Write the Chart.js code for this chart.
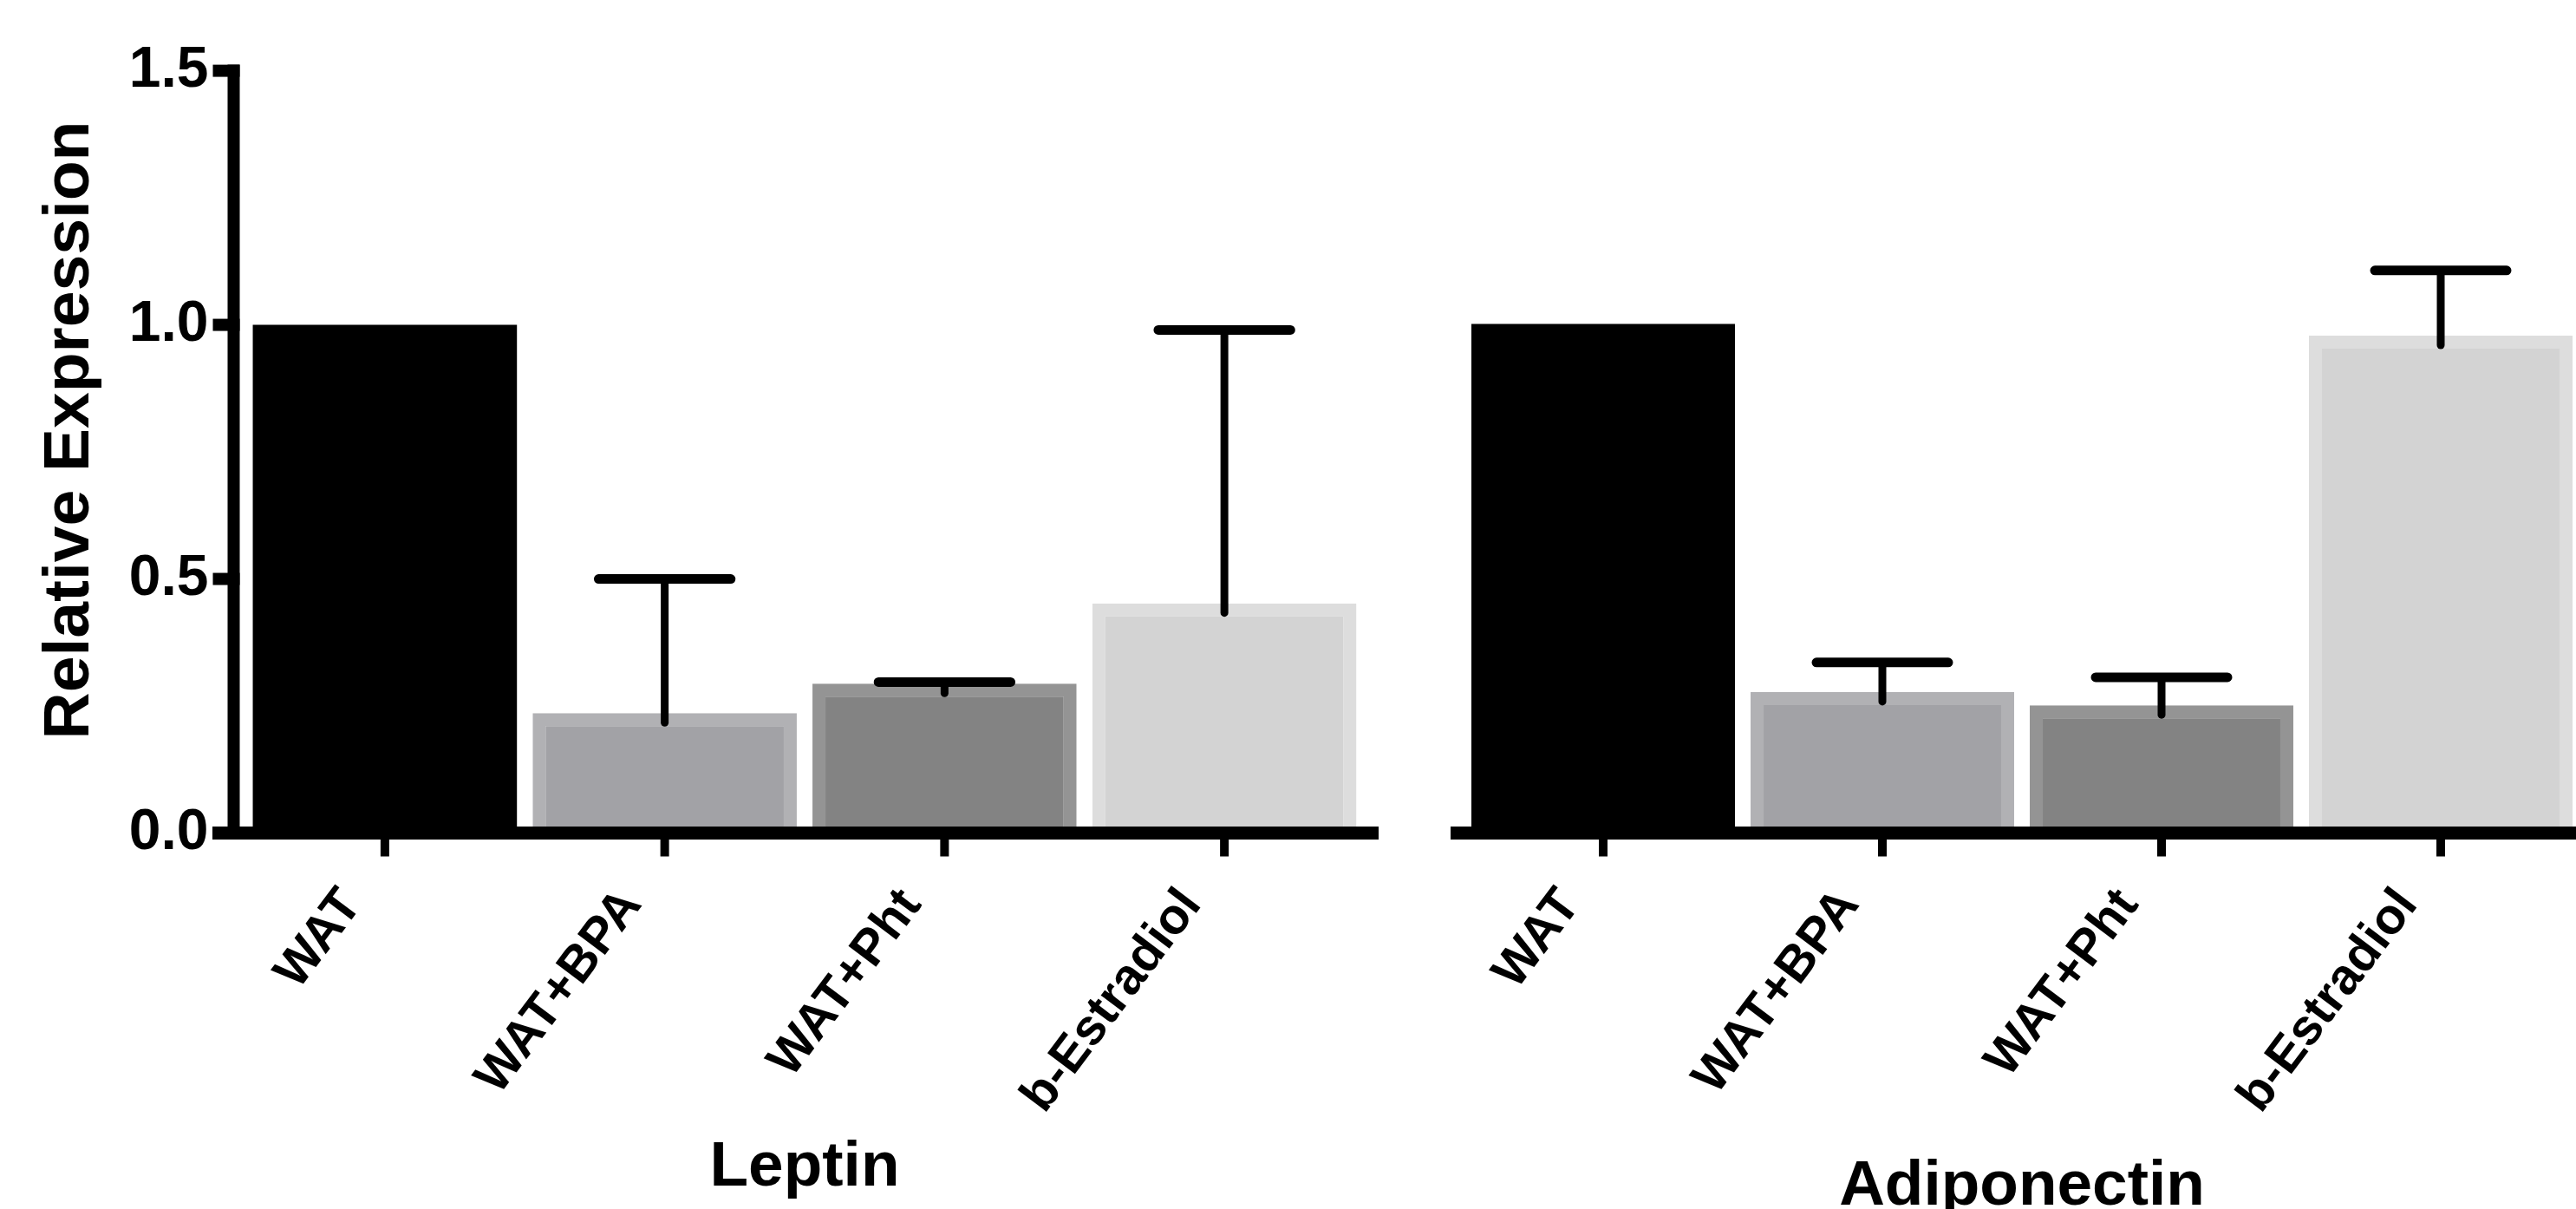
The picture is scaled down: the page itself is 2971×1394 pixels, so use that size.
<!DOCTYPE html>
<html>
<head>
<meta charset="utf-8">
<script src="https://cdn.jsdelivr.net/npm/chart.js@4.4.1/dist/chart.umd.min.js"></script>
<style>
  html, body { margin: 0; padding: 0; background: #fff; overflow: hidden; }
  #wrap { position: relative; width: 2971px; height: 1394px; overflow: hidden; background: #fff; }
  #leptinChart { position: absolute; left: 0; top: 0; }
  #adipoChart { position: absolute; left: 1620px; top: 0; }
</style>
</head>
<body>
<div id="wrap">
  <canvas id="leptinChart" width="1620" height="1394"></canvas>
  <canvas id="adipoChart" width="1400" height="1420"></canvas>
</div>
<script>
// groups and values
const groups = ['WAT', 'WAT+BPA', 'WAT+Pht', 'b-Estradiol'];
const leptinMean = [1.0, 0.236, 0.294, 0.452];
const leptinErr = [0, 0.264, 0.003, 0.538];
const adipoMean = [1.0, 0.277, 0.251, 0.977];
const adipoErr = [0, 0.058, 0.055, 0.128];
const yTicks = [0, 0.5, 1.0, 1.5];
const yTitle = 'Relative Expression';

const fillColors = ['#000000', '#a2a2a6', '#838383', '#d3d3d3'];
const edgeColors = ['#000000', '#b1b1b4', '#949494', '#dddddd'];
const edgeWidths = [0, 15, 15, 15];
const FONT = "'Liberation Sans', Arial, Helvetica, sans-serif";

// Prism-style axes + SEM error bars drawn from the chart's own scales
const prismAxes = {
  id: 'prismAxes',
  afterDatasetsDraw(chart, args, opts) {
    const ctx = chart.ctx;
    const area = chart.chartArea;
    const xs = chart.scales.x, ys = chart.scales.y;
    const meta = chart.getDatasetMeta(0);
    const means = chart.data.datasets[0].data;
    ctx.save();
    ctx.strokeStyle = '#000';

    // error bars (upper only)
    ctx.lineCap = 'round';
    meta.data.forEach((bar, i) => {
      const e = opts.errors[i];
      if (!e) return;
      const top = ys.getPixelForValue(means[i] + e);
      const half = bar.width * 0.25;
      ctx.lineWidth = 9;
      ctx.beginPath();
      ctx.moveTo(bar.x, bar.y + 11);
      ctx.lineTo(bar.x, top);
      ctx.stroke();
      ctx.lineWidth = 11;
      ctx.beginPath();
      ctx.moveTo(bar.x - half, top);
      ctx.lineTo(bar.x + half, top);
      ctx.stroke();
    });

    // x axis
    ctx.lineCap = 'butt';
    const y0 = ys.getPixelForValue(0);
    ctx.lineWidth = 15;
    ctx.beginPath();
    ctx.moveTo(area.left - opts.leftExt, y0);
    ctx.lineTo(area.right + opts.rightExt, y0);
    ctx.stroke();
    ctx.lineWidth = 10;
    groups.forEach((g, i) => {
      const px = xs.getPixelForValue(i);
      ctx.beginPath();
      ctx.moveTo(px, y0 + 7);
      ctx.lineTo(px, y0 + 27);
      ctx.stroke();
    });

    // y axis, ticks and its title (title sits a little above centre, as in the figure)
    if (opts.yAxis) {
      const ax = area.left - 13;
      ctx.lineWidth = 14;
      ctx.beginPath();
      ctx.moveTo(ax, ys.getPixelForValue(1.5) - 7);
      ctx.lineTo(ax, y0 + 7);
      ctx.stroke();
      yTicks.forEach(v => {
        const py = ys.getPixelForValue(v);
        ctx.beginPath();
        ctx.moveTo(ax - 24, py);
        ctx.lineTo(ax + 7, py);
        ctx.stroke();
      });
      ctx.translate(area.left - 201, (area.top + area.bottom) / 2 - 25);
      ctx.rotate(-Math.PI / 2);
      ctx.fillStyle = '#000';
      ctx.font = 'bold 75px ' + FONT;
      ctx.textAlign = 'center';
      ctx.textBaseline = 'middle';
      ctx.fillText(yTitle, 0, 0);
    }
    ctx.restore();
  }
};

function makeChart(id, means, errs, title, cfg) {
  return new Chart(document.getElementById(id), {
    type: 'bar',
    data: {
      labels: groups,
      datasets: [{
        data: means,
        backgroundColor: fillColors,
        borderColor: edgeColors,
        borderWidth: edgeWidths,
        borderSkipped: 'bottom',
        barPercentage: 0.944,
        categoryPercentage: 1
      }]
    },
    options: {
      responsive: false,
      animation: false,
      layout: { padding: cfg.padding },
      plugins: {
        legend: { display: false },
        tooltip: { enabled: false },
        prismAxes: { errors: errs, yAxis: cfg.showY, leftExt: cfg.leftExt, rightExt: cfg.rightExt }
      },
      scales: {
        x: {
          grid: { display: false, drawTicks: false },
          border: { display: false },
          ticks: {
            color: '#000',
            font: { family: FONT, size: 58, weight: 'bold' },
            minRotation: 53,
            maxRotation: 53,
            autoSkip: false,
            labelOffset: -38,
            padding: 52
          },
          title: {
            display: true,
            text: title,
            color: '#000',
            font: { family: FONT, size: 73, weight: 'bold' },
            padding: { top: 0, bottom: cfg.titlePad }
          },
          afterFit: s => { s.height = cfg.xHeight; }
        },
        y: {
          display: cfg.showY,
          min: 0,
          max: 1.5,
          grid: { display: false, drawTicks: false },
          border: { display: false },
          afterBuildTicks: s => { s.ticks = yTicks.map(v => ({ value: v })); },
          ticks: {
            color: '#000',
            font: { family: FONT, size: 66, weight: 'bold' },
            padding: 42,
            callback: v => Number(v).toFixed(1)
          },
          afterFit: s => { s.width = cfg.yWidth; }
        }
      }
    },
    plugins: [prismAxes]
  });
}

makeChart('leptinChart', leptinMean, leptinErr, 'Leptin', {
  padding: { top: 80, left: 0, right: 46.5, bottom: 0 },
  xHeight: 1394 - 960.5,
  yWidth: 282.5,
  titlePad: 3,
  showY: true,
  leftExt: 37.5,
  rightExt: 16.5
});

makeChart('adipoChart', adipoMean, adipoErr, 'Adiponectin', {
  padding: { top: 80, left: 68, right: 44, bottom: 0 },
  xHeight: 1420 - 960.5,
  yWidth: 0,
  titlePad: 7,
  showY: false,
  leftExt: 15,
  rightExt: 60
});
</script>
</body>
</html>
